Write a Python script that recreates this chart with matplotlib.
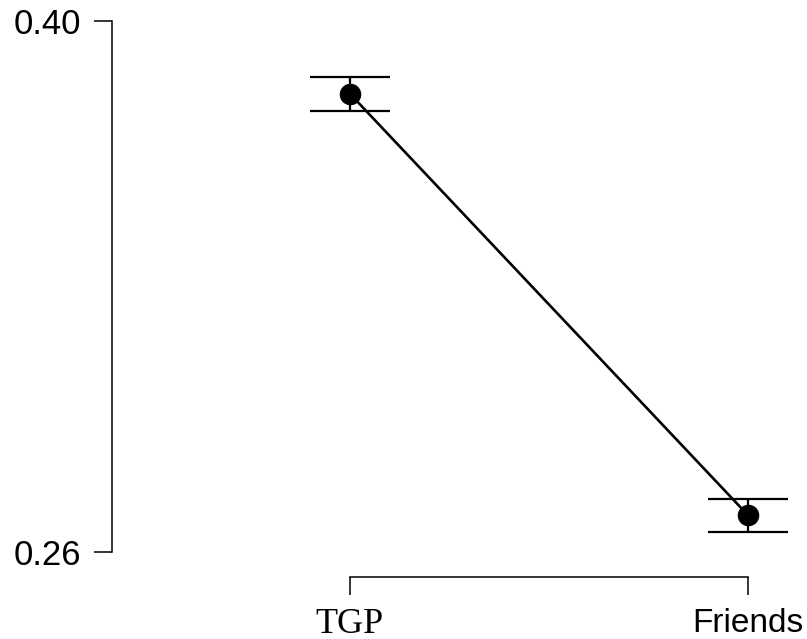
import numpy as np
import matplotlib
matplotlib.use('Agg')
import matplotlib.pyplot as plt

# group means and half-widths of the error bars
groups = ['TGP', 'Friends']
means = [0.3808, 0.2697]
errs = [0.0045, 0.0044]
yticks = [0.26, 0.40]
ytick_labels = ['0.26', '0.40']

W, H = 807, 639
fig = plt.figure(figsize=(W / 100, H / 100), dpi=100)

# axes placed in pixel terms (R base-graphics look)
ax_l, ax_r, ax_t, ax_b = 112, 800, 10, 577
ax = fig.add_axes([ax_l / W, (H - ax_b) / H, (ax_r - ax_l) / W, (ax_b - ax_t) / H])

x = np.arange(1, len(groups) + 1)
px_x = [350, 748]
sx = (px_x[1] - px_x[0]) / (x[1] - x[0])
ax.set_xlim(x[0] - (px_x[0] - ax_l) / sx, x[-1] + (ax_r - px_x[1]) / sx)
px_y = [552, 21]
sy = (px_y[0] - px_y[1]) / (yticks[1] - yticks[0])
ax.set_ylim(yticks[0] - (ax_b - px_y[0]) / sy, yticks[1] + (px_y[1] - ax_t) / sy)

ax.errorbar(x, means, yerr=errs, fmt='none', ecolor='black', elinewidth=1.6,
            capsize=29, capthick=1.6)
ax.plot(x, means, color='black', lw=1.9, marker='o', markersize=14.5)

for s in ['top', 'right']:
    ax.spines[s].set_visible(False)
ax.spines['left'].set_bounds(yticks[0], yticks[1])
ax.spines['bottom'].set_bounds(x[0], x[-1])
for s in ['left', 'bottom']:
    ax.spines[s].set_linewidth(1.1)

ax.set_yticks(yticks)
ax.set_yticklabels(ytick_labels, family='Liberation Sans', fontsize=25)
ax.set_xticks(x)
ax.set_xticklabels(groups)
tgp, fr = ax.get_xticklabels()
tgp.set_family('Liberation Serif')
tgp.set_fontsize(26)
fr.set_family('Liberation Sans')
fr.set_fontsize(24)
ax.tick_params(axis='y', direction='out', length=13, width=1.1, pad=9)
ax.tick_params(axis='x', direction='out', length=13, width=1.1, pad=9)

fig.savefig('out.png', dpi=100)
